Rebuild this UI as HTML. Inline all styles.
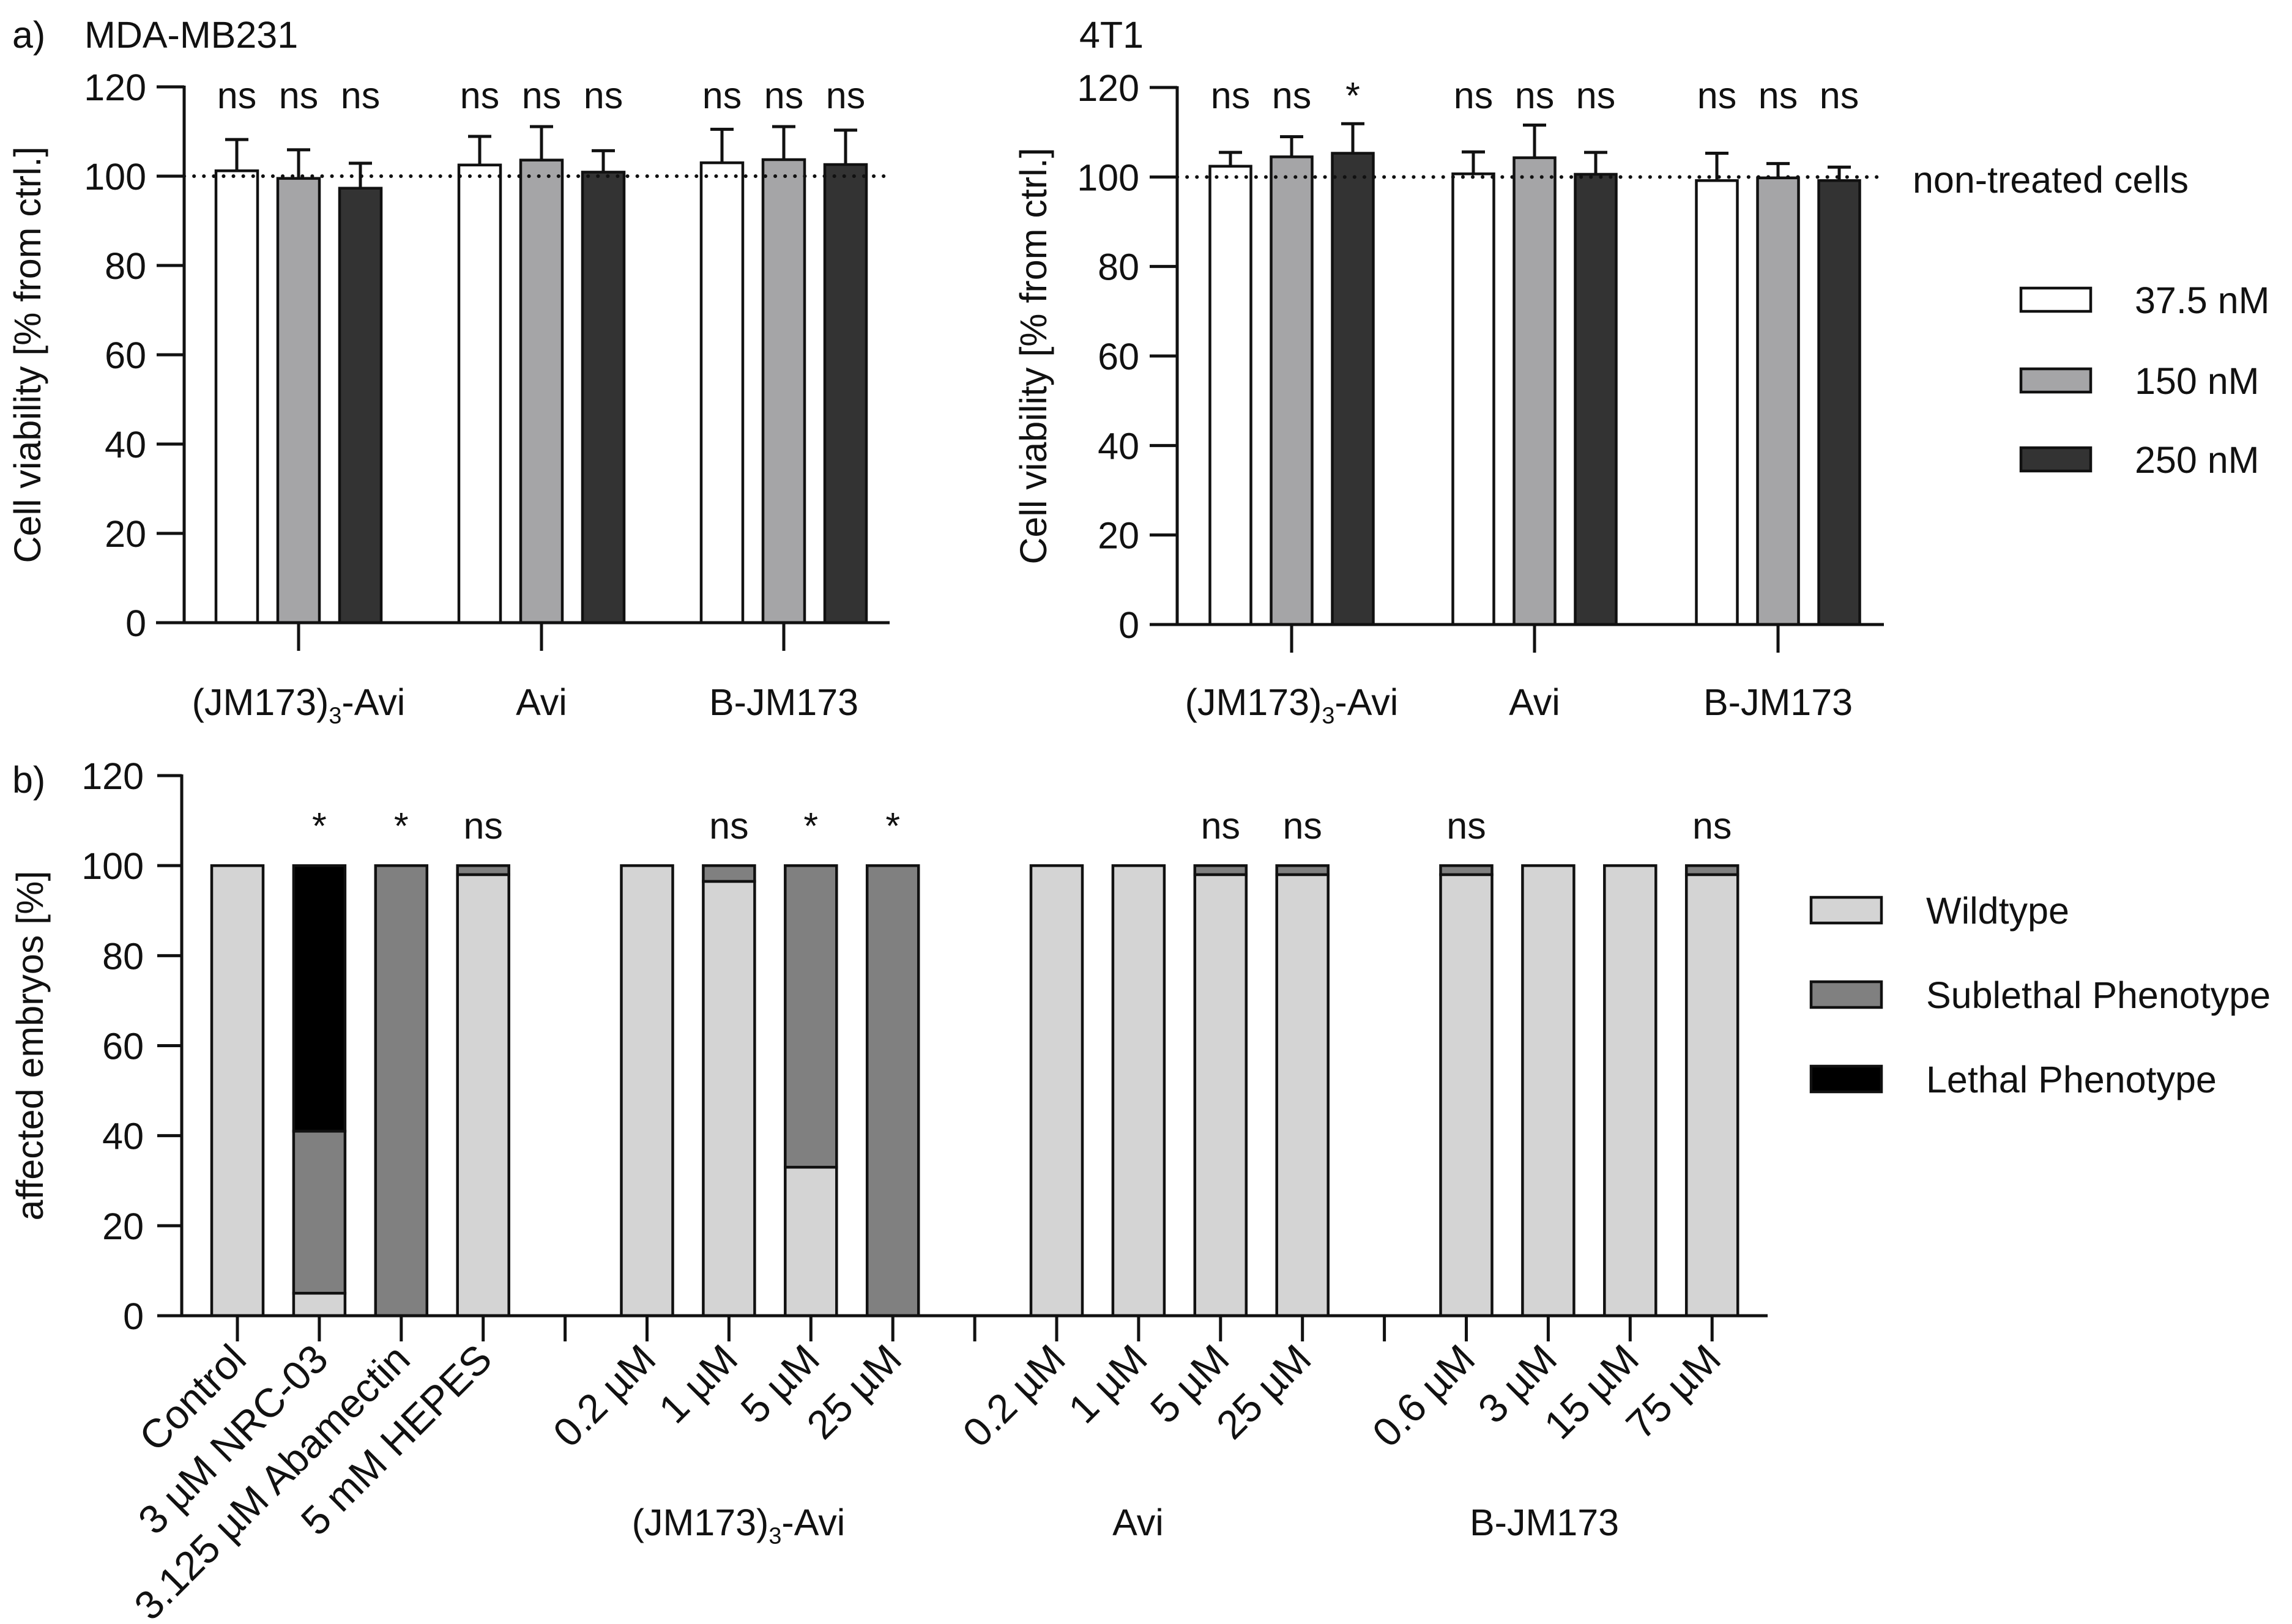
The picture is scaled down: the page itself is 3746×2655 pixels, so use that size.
<!DOCTYPE html>
<html><head><meta charset="utf-8">
<style>
html,body{margin:0;padding:0;background:#fff;}
svg{display:block;font-family:"Liberation Sans",sans-serif;}
</style></head>
<body>
<svg id="fig" width="3746" height="2655" viewBox="0 0 3746 2655" xmlns="http://www.w3.org/2000/svg">
</svg>
<script>
// ---------- data ----------
const groupsA = ["(JM173)3-Avi", "Avi", "B-JM173"];
const seriesNames = ["37.5 nM", "150 nM", "250 nM"];
const mdaMeans = [101.2, 99.5, 97.3, 102.5, 103.6, 100.9, 103.0, 103.7, 102.6];
const mdaErrTop = [108.2, 105.9, 102.9, 108.9, 111.1, 105.7, 110.5, 111.1, 110.3];
const mdaSig = ["ns","ns","ns","ns","ns","ns","ns","ns","ns"];
const t41Means = [102.4, 104.5, 105.3, 100.7, 104.3, 100.6, 99.2, 99.8, 99.2];
const t41ErrTop = [105.5, 109.0, 111.9, 105.6, 111.6, 105.5, 105.3, 103.0, 102.2];
const t41Sig = ["ns","ns","*","ns","ns","ns","ns","ns","ns"];
const yTicksA = [0, 20, 40, 60, 80, 100, 120];

const catsB = ["Control","3 µM NRC-03","3.125 µM Abamectin","5 mM HEPES","",
  "0.2 µM","1 µM","5 µM","25 µM","",
  "0.2 µM","1 µM","5 µM","25 µM","",
  "0.6 µM","3 µM","15 µM","75 µM"];
const wildtype = [100, 5, 0, 98, null, 100, 96.5, 33, 0, null, 100, 100, 98, 98, null, 98, 100, 100, 98];
const sublethal = [0, 36, 100, 2, null, 0, 3.5, 67, 100, null, 0, 0, 2, 2, null, 2, 0, 0, 2];
const lethal = [0, 59, 0, 0, null, 0, 0, 0, 0, null, 0, 0, 0, 0, null, 0, 0, 0, 0];
const sigB = ["", "*", "*", "ns", "", "", "ns", "*", "*", "", "", "", "ns", "ns", "", "ns", "", "", "ns"];
const yTicksB = [0, 20, 40, 60, 80, 100, 120];

// ---------- helpers ----------
const NS = "http://www.w3.org/2000/svg";
const svg = document.getElementById("fig");
function mk(tag, attrs, parent) {
  const e = document.createElementNS(NS, tag);
  for (const k in attrs) e.setAttribute(k, attrs[k]);
  (parent || svg).appendChild(e);
  return e;
}
function txt(s, x, y, size, anchor, parent) {
  const t = mk("text", {x: x, y: y, "font-size": size, "text-anchor": anchor || "middle", fill: "#111"}, parent);
  t.textContent = s;
  return t;
}
function subLabel(x, y, size, parent) {
  const t = mk("text", {x: x, y: y, "font-size": size, "text-anchor": "middle", fill: "#111"}, parent);
  const a = document.createElementNS(NS, "tspan"); a.textContent = "(JM173)"; t.appendChild(a);
  const b = document.createElementNS(NS, "tspan"); b.textContent = "3"; b.setAttribute("font-size", size * 0.62); b.setAttribute("dy", size * 0.22); t.appendChild(b);
  const c = document.createElementNS(NS, "tspan"); c.textContent = "-Avi"; c.setAttribute("dy", -size * 0.22); t.appendChild(c);
  return t;
}
const fills = ["#ffffff", "#a5a5a7", "#333333"];
const FS = 61;

function panelA(cfg) {
  const g = mk("g", {});
  
  
  const y = v => cfg.y0 - (v / 120) * (cfg.y0 - cfg.y120);
  cfg.means.forEach((m, i) => {
    const gi = Math.floor(i / 3), si = i % 3;
    const cx = cfg.groupX[gi] + (si - 1) * cfg.step;
    const x0 = cx - cfg.bw / 2;
    const eb = mk("line", {x1: cx, x2: cx, y1: y(m), y2: y(cfg.err[i]), stroke: "#111", "stroke-width": 5}, g);
    
    
    const cap = mk("line", {x1: cx - 19, x2: cx + 19, y1: y(cfg.err[i]), y2: y(cfg.err[i]), stroke: "#111", "stroke-width": 5}, g);
    
    
    const r = mk("rect", {x: x0, y: y(m), width: cfg.bw, height: cfg.y0 - y(m), fill: fills[si], stroke: "#111", "stroke-width": 4.5}, g);
    
    
    const s = txt(cfg.sig[i], cx, cfg.sigY, FS, "middle", g);
    
    
  });
  const dl = mk("line", {x1: cfg.axX, x2: cfg.xEnd, y1: y(100), y2: y(100), stroke: "#111", "stroke-width": 6, "stroke-dasharray": "0.1 16", "stroke-linecap": "round"}, g);
  
  
  const ya = mk("line", {x1: cfg.axX, x2: cfg.axX, y1: cfg.y120 - 2, y2: cfg.y0, stroke: "#111", "stroke-width": 5}, g);
  
  
  const xa = mk("line", {x1: cfg.xStart, x2: cfg.xEnd, y1: cfg.y0, y2: cfg.y0, stroke: "#111", "stroke-width": 5}, g);
  
  
  yTicksA.forEach(v => {
    const tk = mk("line", {x1: cfg.axX - 45, x2: cfg.axX, y1: y(v), y2: y(v), stroke: "#111", "stroke-width": 5}, g);
    
    
    const tl = txt(String(v), cfg.axX - 62, y(v) + 22, FS, "end", g);
    
    
  });
  groupsA.forEach((gname, gi) => {
    const tk = mk("line", {x1: cfg.groupX[gi], x2: cfg.groupX[gi], y1: cfg.y0, y2: cfg.y0 + 46, stroke: "#111", "stroke-width": 5}, g);
    
    
    let l;
    if (gi === 0) l = subLabel(cfg.groupX[gi], cfg.labY, FS, g);
    else l = txt(gname, cfg.groupX[gi], cfg.labY, FS, "middle", g);
    
    
  });
  const yt = txt("Cell viability [% from ctrl.]", 0, 0, FS, "middle", g);
  yt.setAttribute("transform", `translate(${cfg.titleX},${(cfg.y0 + cfg.y120) / 2}) rotate(-90)`);
  
  
  const ti = txt(cfg.title, cfg.titleTX, 78, FS, "start", g);
  
  
}

panelA({name: "chart-mda-mb231", means: mdaMeans, err: mdaErrTop, sig: mdaSig,
  axX: 301, y0: 1018, y120: 142, xStart: 255, xEnd: 1454,
  groupX: [488, 885, 1281], step: 101, bw: 68, sigY: 177, labY: 1169,
  titleX: 66, titleTX: 138, title: "MDA-MB231"});
panelA({name: "chart-4t1", means: t41Means, err: t41ErrTop, sig: t41Sig,
  axX: 1924, y0: 1021, y120: 143, xStart: 1881, xEnd: 3079,
  groupX: [2111, 2508, 2906], step: 100, bw: 67, sigY: 177, labY: 1169,
  titleX: 1710, titleTX: 1764, title: "4T1"});

const aLab = txt("a)", 20, 78, FS, "start");


const ntc = txt("non-treated cells", 3126, 315, FS, "start");



const legAY = [490, 622, 751];
seriesNames.forEach((n, i) => {
  const r = mk("rect", {x: 3303, y: legAY[i] - 19, width: 114, height: 38, fill: fills[i], stroke: "#111", "stroke-width": 4.5});
  
  
  const t = txt(n, 3489, legAY[i] + 22, FS, "start");
  
  
});

// ---------- panel b ----------
(function () {
  const g = mk("g", {});
  
  
  const axX = 297, y0 = 2151, y120 = 1268, x0 = 388, step = 133.9, bw = 84;
  const y = v => y0 - (v / 120) * (y0 - y120);
  const cx = i => x0 + i * step;
  const cols = ["#d4d4d4", "#808080", "#000000"];
  catsB.forEach((c, i) => {
    if (wildtype[i] !== null) {
      const parts = [wildtype[i], sublethal[i], lethal[i]];
      let base = 0;
      parts.forEach((p, k) => {
        if (p > 0) {
          const r = mk("rect", {x: cx(i) - bw / 2, y: y(base + p), width: bw, height: y(base) - y(base + p), fill: cols[k], stroke: "#111", "stroke-width": 4.5}, g);
          
          
        }
        base += p;
      });
      if (sigB[i]) {
        const s = txt(sigB[i], cx(i), 1371, FS, "middle", g);
        
        
      }
      const l = txt(c, 0, 0, 66, "end", g);
      l.setAttribute("transform", `translate(${cx(i) + 18},${2226}) rotate(-45)`);
      
      
    }
    const tk = mk("line", {x1: cx(i), x2: cx(i), y1: y0, y2: y0 + 42, stroke: "#111", "stroke-width": 5}, g);
    
    
  });
  const ya = mk("line", {x1: axX, x2: axX, y1: y120 - 2, y2: y0, stroke: "#111", "stroke-width": 5}, g);
  
  
  const xa = mk("line", {x1: 261, x2: 2889, y1: y0, y2: y0, stroke: "#111", "stroke-width": 5}, g);
  
  
  yTicksB.forEach(v => {
    const tk = mk("line", {x1: axX - 40, x2: axX, y1: y(v), y2: y(v), stroke: "#111", "stroke-width": 5}, g);
    
    
    const tl = txt(String(v), axX - 62, y(v) + 22, FS, "end", g);
    
    
  });
  const yt = txt("affected embryos [%]", 0, 0, FS, "middle", g);
  yt.setAttribute("transform", `translate(70,${(y0 + y120) / 2}) rotate(-90)`);
  
  
  const gl1 = subLabel(1207, 2510, FS, g);
  
  
  const gl2 = txt("Avi", 1860, 2510, FS, "middle", g);
  
  
  const gl3 = txt("B-JM173", 2524, 2510, FS, "middle", g);
  
  
  const bl = txt("b)", 20, 1296, FS, "start", g);
  
  
  const legNames = ["Wildtype", "Sublethal Phenotype", "Lethal Phenotype"];
  const legY = [1488, 1626, 1764];
  legNames.forEach((n, k) => {
    const r = mk("rect", {x: 2960, y: legY[k] - 21, width: 115, height: 42, fill: cols[k], stroke: "#111", "stroke-width": 4.5}, g);
    
    
    const t = txt(n, 3148, legY[k] + 22, FS, "start", g);
    
    
  });
})();
</script>
</body></html>
